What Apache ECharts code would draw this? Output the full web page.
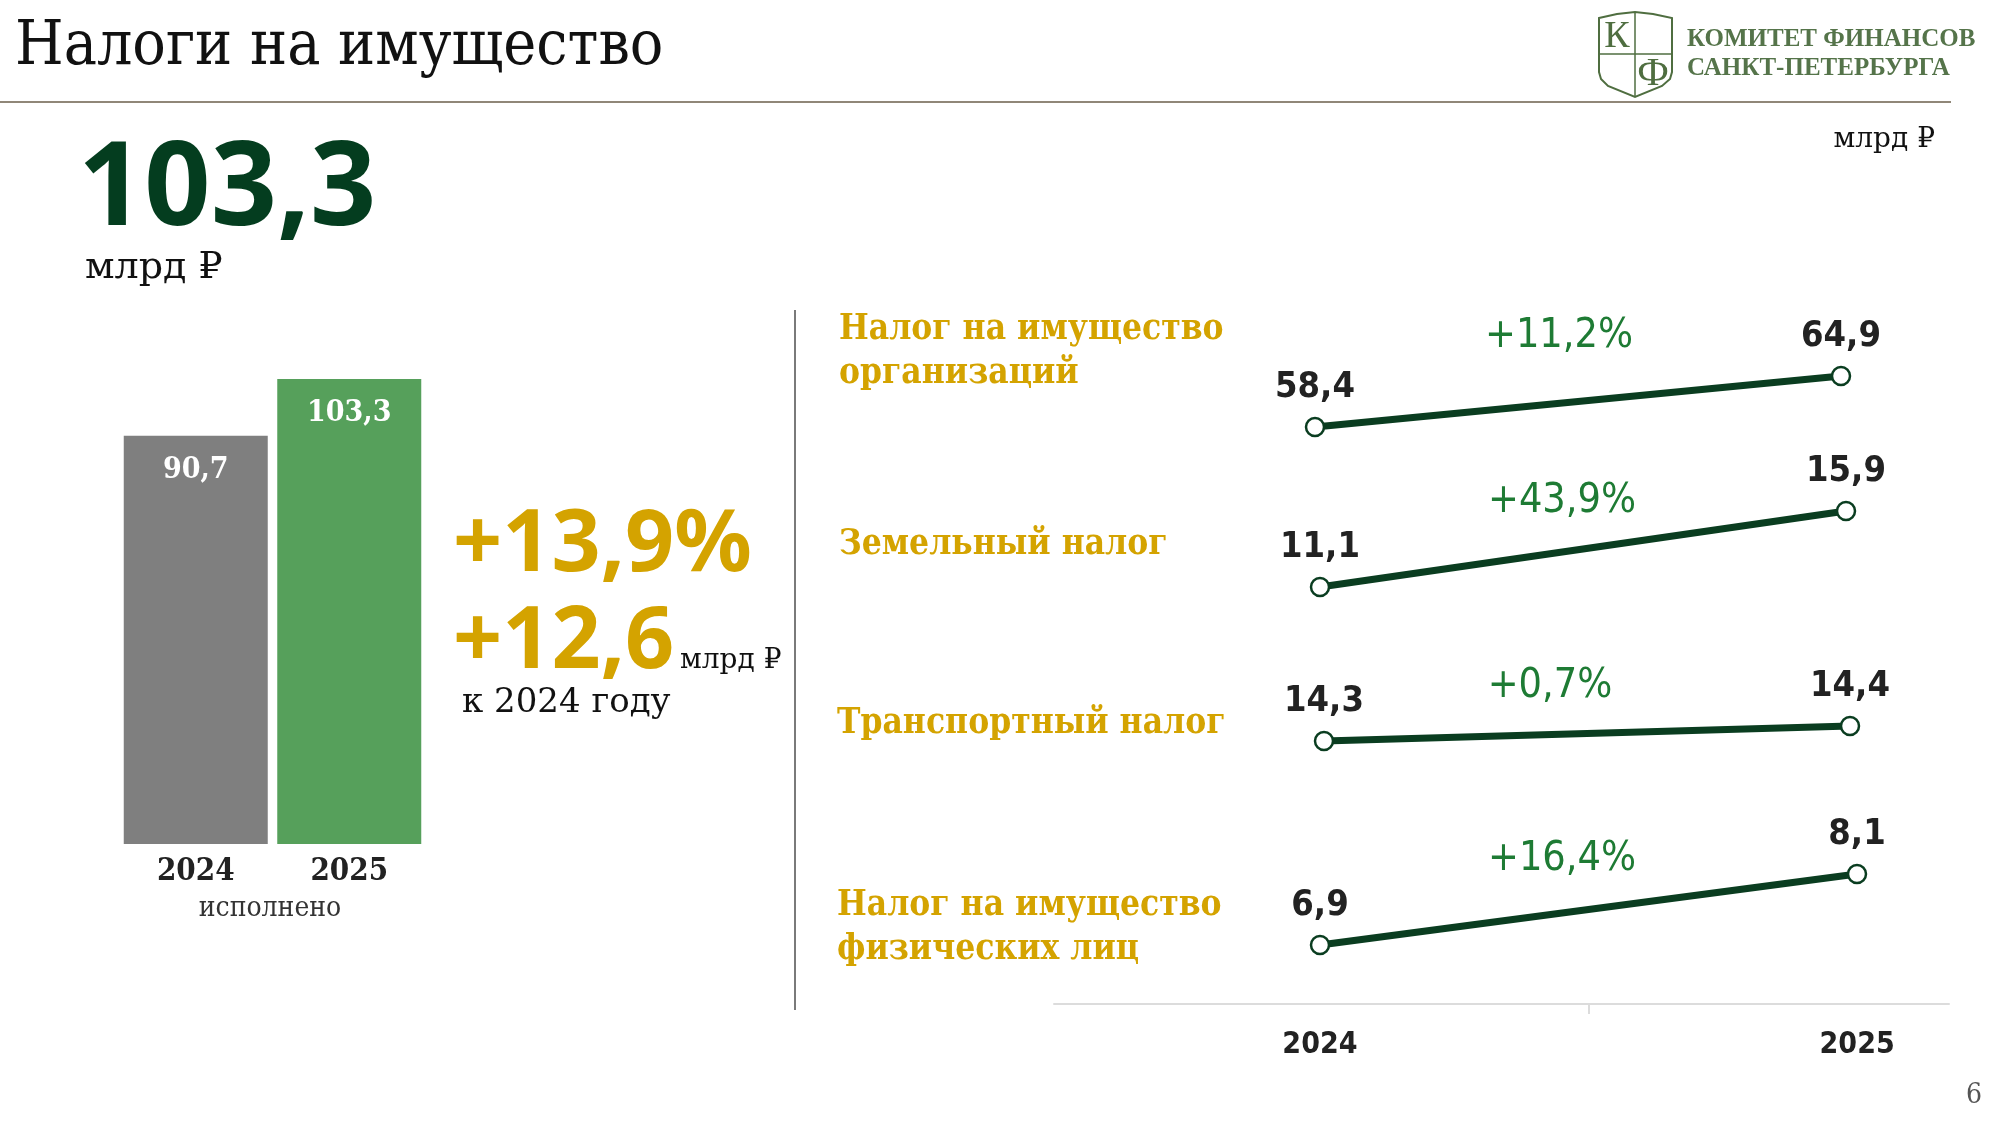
<!DOCTYPE html>
<html>
<head>
<meta charset="utf-8">
<script src="https://cdn.jsdelivr.net/npm/echarts@6/dist/echarts.min.js"></script>
<style>
html,body{margin:0;padding:0;background:#fff;}
#chart{width:2000px;height:1125px;}
</style>
</head>
<body>
<div id="chart"></div>
<script>
// ---------- data ----------
const barYears = ['2024', '2025'];
const barValues = [90.7, 103.3];
const barColors = ['#7f7f7f', '#56a05b'];

const lineYears = ['2024', '2025'];
const taxNames = ['Налог на имущество\nорганизаций', 'Земельный налог', 'Транспортный налог', 'Налог на имущество\nфизических лиц'];
const values2024 = [58.4, 11.1, 14.3, 6.9];
const values2025 = [64.9, 15.9, 14.4, 8.1];
const growthLabels = ['+11,2%', '+43,9%', '+0,7%', '+16,4%'];

const totalLabel = '103,3';
const growthPctLabel = '+13,9%';
const growthAbsLabel = '+12,6';

// ---------- helpers ----------
const fmt = v => v.toFixed(1).replace('.', ',');
const SERIF = '"DejaVu Serif Condensed", "DejaVu Serif", "Liberation Serif", serif';
const SERIF_W = '"DejaVu Serif", "Liberation Serif", serif';
const SANS = '"Noto Sans", "Open Sans", sans-serif';
const COND = '"DejaVu Sans Condensed", "DejaVu Sans", sans-serif';
const GOLD = '#d4a300';
const DARKGREEN = '#0a3d20';

// layout of the four small slope charts
const lineLeft = [1315, 1320, 1324, 1320];
const lineRight = [1841, 1846, 1850, 1857];
const lineTop = [376, 511, 726, 874];
const lineBottom = [427, 587, 741, 945];
const pctPos = [[1559, 336], [1562, 501], [1550, 686], [1562, 859]];
const namePos = [[839, 330], [839, 545], [837, 724], [837, 906]];

const chart = echarts.init(document.getElementById('chart'), null, {renderer: 'canvas'});

const grids = [{left: 119, top: 379, width: 307, height: 465}];
const xAxes = [{
  type: 'category', gridIndex: 0, data: barYears,
  axisLine: {show: false}, axisTick: {show: false},
  axisLabel: {fontFamily: SERIF, fontWeight: 'bold', fontSize: 31, color: '#222', margin: 12}
}];
const yAxes = [{type: 'value', gridIndex: 0, min: 0, max: 'dataMax', show: false, splitLine: {show: false}}];
const series = [{
  type: 'bar', xAxisIndex: 0, yAxisIndex: 0, barWidth: 144,
  data: barValues.map((v, i) => ({value: v, itemStyle: {color: barColors[i]}})),
  label: {
    show: true, position: 'insideTop', distance: 19,
    formatter: p => fmt(p.value),
    fontFamily: SERIF, fontWeight: 'bold', fontSize: 30, color: '#fff'
  }
}];

for (let i = 0; i < values2024.length; i++) {
  const gi = i + 1;
  grids.push({left: lineLeft[i], top: lineTop[i], width: lineRight[i] - lineLeft[i], height: lineBottom[i] - lineTop[i]});
  xAxes.push({type: 'category', gridIndex: gi, data: lineYears, boundaryGap: false, show: false});
  yAxes.push({type: 'value', gridIndex: gi, min: values2024[i], max: values2025[i], show: false, splitLine: {show: false}});
  series.push({
    type: 'line', xAxisIndex: gi, yAxisIndex: gi,
    data: [values2024[i], values2025[i]],
    clip: false,
    lineStyle: {width: 7, color: DARKGREEN},
    symbol: 'circle', symbolSize: 18,
    itemStyle: {color: '#fff', borderColor: DARKGREEN, borderWidth: 2.5},
    label: {
      show: true, position: 'top', distance: 11,
      formatter: p => fmt(p.value),
      fontFamily: COND, fontWeight: 'bold', fontSize: 36, color: '#222'
    },
    z: 3
  });
}

// shared bottom axis of the slope charts
const axGi = grids.length;
grids.push({left: 1054, top: 990, width: 895, height: 14});
xAxes.push({
  type: 'value', gridIndex: axGi, min: -0.495, max: 1.171,
  axisLine: {show: true, lineStyle: {color: '#dcdcdc', width: 2}},
  axisTick: {show: true, customValues: [0.5], length: 10, lineStyle: {color: '#dcdcdc', width: 2}},
  splitLine: {show: false},
  axisLabel: {
    show: true, customValues: [0, 1], margin: 26,
    formatter: v => lineYears[Math.round(v)],
    fontFamily: COND, fontWeight: 'bold', fontSize: 30, color: '#222'
  }
});
yAxes.push({type: 'value', gridIndex: axGi, show: false, min: 0, max: 1, splitLine: {show: false}});

// ---------- annotations ----------
const T = (text, x, y, size, family, weight, fill, align) => ({
  type: 'text', silent: true,
  style: {text, x, y, fontSize: size, fontFamily: family, fontWeight: weight || 'normal',
          fill: fill || '#111', align: align || 'left', verticalAlign: 'middle'}
});
const LOGO = '#4f6e40';
const graphics = [
  T('Налоги на имущество', 15, 48, 62, SERIF, 'normal', '#111'),
  {type: 'line', silent: true, shape: {x1: 0, y1: 102, x2: 1951, y2: 102}, style: {stroke: '#6b5f4b', lineWidth: 1.5}},
  // logo
  {type: 'polygon', silent: true,
   shape: {points: [[1599,18],[1617,14],[1635,12],[1653,14],[1672,18],[1672,72],[1670,79],[1662,86],[1635,97],[1608,86],[1601,79],[1599,72]]},
   style: {fill: 'none', stroke: LOGO, lineWidth: 2}},
  {type: 'line', silent: true, shape: {x1: 1635, y1: 12, x2: 1635, y2: 97}, style: {stroke: LOGO, lineWidth: 1.5}},
  {type: 'line', silent: true, shape: {x1: 1599, y1: 54, x2: 1672, y2: 54}, style: {stroke: LOGO, lineWidth: 1.5}},
  T('К', 1617, 37, 38, '"Liberation Serif", serif', 'normal', LOGO, 'center'),
  T('Ф', 1653, 74, 40, '"Liberation Serif", serif', 'normal', LOGO, 'center'),
  T('КОМИТЕТ ФИНАНСОВ', 1687, 40, 25, '"Liberation Serif", serif', 'bold', '#55744a'),
  T('САНКТ-ПЕТЕРБУРГА', 1687, 69, 25, '"Liberation Serif", serif', 'bold', '#55744a'),
  T('млрд ₽', 1935, 140, 28, SERIF_W, 'normal', '#111', 'right'),
  // left block
  T(totalLabel, 78, 192, 116, SANS, 'bold', '#043d1f'),
  T('млрд ₽', 85, 268, 38, SERIF_W, 'normal', '#111'),
  T('исполнено', 270, 909, 28, SERIF, 'normal', '#333', 'center'),
  T(growthPctLabel, 453, 546, 86, SANS, 'bold', GOLD),
  T(growthAbsLabel, 453, 643, 86, SANS, 'bold', GOLD),
  T('млрд ₽', 680, 661, 28, SERIF_W, 'normal', '#111'),
  T('к 2024 году', 462, 703, 34, SERIF_W, 'normal', '#111'),
  {type: 'line', silent: true, shape: {x1: 795, y1: 310, x2: 795, y2: 1010}, style: {stroke: '#7a7a7a', lineWidth: 2}},
  T('6', 1974, 1096, 28, SERIF, 'normal', '#555', 'center')
];
taxNames.forEach((name, i) => {
  name.split('\n').forEach((ln, k) => {
    graphics.push(T(ln, namePos[i][0], namePos[i][1] + k * 44, 35, SERIF, 'bold', GOLD));
  });
  graphics.push(T(growthLabels[i], pctPos[i][0], pctPos[i][1], 41, COND, 'normal', '#1e7b34', 'center'));
});

chart.setOption({
  backgroundColor: '#ffffff',
  animation: false,
  grid: grids,
  xAxis: xAxes,
  yAxis: yAxes,
  series: series,
  graphic: graphics
});
</script>
</body>
</html>
